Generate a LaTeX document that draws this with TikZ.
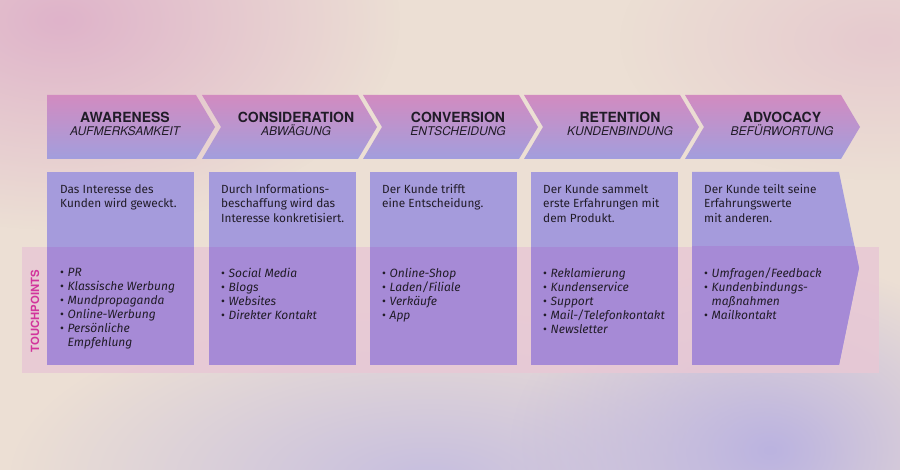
\documentclass[tikz,border=0pt]{standalone}
\usepackage{fontspec}
\setmainfont{Fira Sans}
\newfontfamily\headfont{TeX Gyre Heros}
\usetikzlibrary{fadings}
\definecolor{bgbase}{HTML}{ECDFD4}
\definecolor{bgpink}{HTML}{DFB3CA}
\definecolor{bgpink2}{HTML}{E6CACF}
\definecolor{bglav}{HTML}{C6BEDF}
\definecolor{bglav2}{HTML}{BBB3E0}
\definecolor{chevtop}{HTML}{D28BC0}
\definecolor{chevbot}{HTML}{A29EDD}
\definecolor{boxup}{HTML}{A59BDC}
\definecolor{boxlow}{HTML}{A68AD6}
\definecolor{bandcol}{HTML}{E8C8D5}
\definecolor{tpcol}{HTML}{D2359C}
\definecolor{ink}{HTML}{211C28}
\tikzfading[name=softblob, inner color=transparent!0, outer color=transparent!100]
\newcommand{\tpitem}[1]{\makebox[7.5pt][l]{\raisebox{0.3pt}{\fontsize{12}{12}\selectfont\upshape\textbullet}}#1}
\newcommand{\tpcont}[1]{\hspace*{7.5pt}#1}
\begin{document}
\begin{tikzpicture}[x=1pt,y=-1pt,
  head/.style={font=\headfont\fontsize{14}{14}\selectfont\bfseries, text=ink, anchor=base, inner sep=0pt},
  sub/.style={font=\headfont\fontsize{12}{12}\selectfont\itshape, text=ink, anchor=base, inner sep=0pt},
  desc/.style={font=\fontsize{11.8}{14.5}\selectfont, text=ink, anchor=north west, inner sep=0pt, align=left},
  tlist/.style={font=\fontsize{12}{14}\selectfont\itshape, text=ink, anchor=north west, inner sep=0pt, align=left},
  chev/.style={top color=chevtop, bottom color=chevbot, draw=none},
]
% background
\useasboundingbox (0,0) rectangle (900,470);
\fill[bgbase] (0,0) rectangle (900,470);
\fill[bgpink, path fading=softblob] (60,20) ellipse [x radius=340, y radius=210];
\fill[bgpink2, path fading=softblob] (880,40) ellipse [x radius=260, y radius=140];
\fill[bglav, path fading=softblob] (430,480) ellipse [x radius=420, y radius=180];
\fill[bglav2, path fading=softblob] (770,450) ellipse [x radius=260, y radius=190];

% touchpoints band
\fill[bandcol, opacity=0.85] (22,247) rectangle (879,373);

% chevrons
\shade[chev] (47,95) -- (196,95) -- (215,127) -- (196,159) -- (47,159) -- cycle;
\foreach \L in {209,370,531,692}{
  \pgfmathsetmacro{\R}{\L+147}
  \shade[chev] (\L-7,95) -- (\R+2,95) -- (\R+21,127) -- (\R+2,159) -- (\L-7,159) -- (\L+12,127) -- cycle;
}

% boxes
\foreach \L in {47,209,370,531}{
  \fill[boxup] (\L,172) rectangle (\L+147,365);
  \fill[boxlow] (\L,247) rectangle (\L+147,365);
}
\fill[boxup] (692,172) -- (839,172) -- (859,268) -- (839,365) -- (692,365) -- cycle;
\begin{scope}
  \clip (22,247) rectangle (879,373);
  \fill[boxlow] (692,172) -- (839,172) -- (859,268) -- (839,365) -- (692,365) -- cycle;
\end{scope}

% headings
\node[head] (h1) at (125,123) {AWARENESS};
\node[sub]  (s1) at (125,136) {AUFMERKSAMKEIT};
\node[head] (h2) at (296,123) {CONSIDERATION};
\node[sub]  (s2) at (296,136) {ABWÄGUNG};
\node[head] (h3) at (458,123) {CONVERSION};
\node[sub]  (s3) at (458,136) {ENTSCHEIDUNG};
\node[head] (h4) at (620,123) {RETENTION};
\node[sub]  (s4) at (620,136) {KUNDENBINDUNG};
\node[head] (h5) at (782,123) {ADVOCACY};
\node[sub]  (s5) at (782,136) {BEFÜRWORTUNG};

% descriptions
\node[desc] (d1) at (60,184) {Das Interesse des\\Kunden wird geweckt.};
\node[desc] (d2) at (221,184) {Durch Informations-\\beschaffung wird das\\Interesse konkretisiert.};
\node[desc] (d3) at (382,184) {Der Kunde trifft\\eine Entscheidung.};
\node[desc] (d4) at (543,184) {Der Kunde sammelt\\erste Erfahrungen mit\\dem Produkt.};
\node[desc] (d5) at (704,184) {Der Kunde teilt seine\\Erfahrungswerte\\mit anderen.};

% touchpoint lists
\node[tlist] (t1) at (60,268) {\tpitem{PR}\\\tpitem{Klassische Werbung}\\\tpitem{Mundpropaganda}\\\tpitem{Online-Werbung}\\\tpitem{Persönliche}\\\tpcont{Empfehlung}};
\node[tlist] (t2) at (221,268) {\tpitem{Social Media}\\\tpitem{Blogs}\\\tpitem{Websites}\\\tpitem{Direkter Kontakt}};
\node[tlist] (t3) at (382,268) {\tpitem{Online-Shop}\\\tpitem{Laden/Filiale}\\\tpitem{Verkäufe}\\\tpitem{App}};
\node[tlist] (t4) at (543,268) {\tpitem{Reklamierung}\\\tpitem{Kundenservice}\\\tpitem{Support}\\\tpitem{Mail-/Telefonkontakt}\\\tpitem{Newsletter}};
\node[tlist] (t5) at (704,268) {\tpitem{Umfragen/Feedback}\\\tpitem{Kundenbindungs-}\\\tpcont{maßnahmen}\\\tpitem{Mailkontakt}};

% touchpoints label
\node[rotate=90, font=\headfont\fontsize{11.3}{11.3}\selectfont\bfseries, text=tpcol, inner sep=0pt] (tp) at (35,311) {TOUCHPOINTS};
\end{tikzpicture}
\end{document}
